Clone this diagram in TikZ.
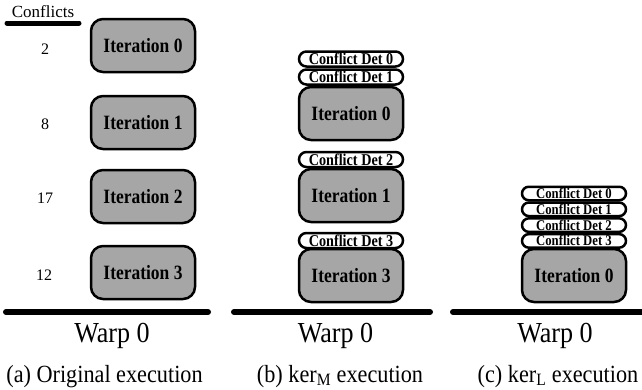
\documentclass[tikz,border=0pt]{standalone}
\usepackage{fontspec}
\setmainfont{Liberation Serif}
\newfontfamily\condbold[FakeStretch=0.86]{Liberation Serif}
\newfontfamily\condreg[FakeStretch=0.9]{Liberation Serif}
\definecolor{boxgray}{HTML}{A6A6A6}
\begin{document}
\begin{tikzpicture}[x=1pt,y=-1pt,
  iterbox/.style={draw, line width=2.5pt, fill=boxgray, rounded corners=12pt,
    minimum width=104pt, minimum height=53pt, inner sep=0pt,
    font=\condbold\bfseries\fontsize{20.3}{22}\selectfont},
  pill/.style={draw, line width=2.5pt, fill=white, rounded corners=7.5pt,
    minimum width=104pt, minimum height=15pt, inner sep=0pt,
    text height=11pt, text depth=0pt,
    font=\condbold\bfseries\fontsize{16.5}{17}\selectfont},
  smallpill/.style={pill, rounded corners=6.8pt, minimum height=13.5pt,
    text height=10pt,
    font=\condbold\bfseries\fontsize{14.8}{15}\selectfont},
  warp/.style={anchor=base, font=\condreg\fontsize{29}{30}\selectfont},
  capt/.style={anchor=base, font=\condreg\fontsize{24.7}{26}\selectfont},
  num/.style={anchor=base, font=\fontsize{16}{17}\selectfont},
  ground/.style={line width=6pt, line cap=round}
]
\useasboundingbox (0,0) rectangle (642,389);

% (a) original execution
\node[anchor=base, font=\fontsize{17}{18}\selectfont] (conf) at (43,17) {Conflicts};
\coordinate (cl) at (7,23);
\coordinate (cr) at (79,23);
\draw[line width=5pt, line cap=round] (cl) -- (cr);

\node[iterbox] (a0) at (143,45.5) {Iteration 0};
\node[iterbox] (a1) at (143,122.5) {Iteration 1};
\node[iterbox] (a2) at (143,196.5) {Iteration 2};
\node[iterbox] (a3) at (143,272.5) {Iteration 3};

\node[num] (n0) at (45,54) {2};
\node[num] (n1) at (45,129) {8};
\node[num] (n2) at (45,203) {17};
\node[num] (n3) at (44,280) {12};

\coordinate (ga1) at (6,312);
\coordinate (ga2) at (208,312);
\draw[ground] (ga1) -- (ga2);
\node[warp] (wa) at (112,342) {Warp 0};
\node[capt] (ca) at (104.5,382) {(a) Original execution};

% (b) kerM execution
\node[pill] (bd0) at (351,59) {Conflict Det 0};
\node[pill] (bd1) at (351,77) {Conflict Det 1};
\node[iterbox] (b0) at (351,113.5) {Iteration 0};
\node[pill] (bd2) at (351,159.5) {Conflict Det 2};
\node[iterbox] (b1) at (351,195.5) {Iteration 1};
\node[pill] (bd3) at (351,240.5) {Conflict Det 3};
\node[iterbox] (b3) at (351,275.5) {Iteration 3};

\coordinate (gb1) at (234,312);
\coordinate (gb2) at (430,312);
\draw[ground] (gb1) -- (gb2);
\node[warp] (wb) at (335.5,342) {Warp 0};
\node[capt] (cb) at (340,382) {(b) ker\textsubscript{M} execution};

% (c) kerL execution
\node[smallpill] (cd0) at (574,193.5) {Conflict Det 0};
\node[smallpill] (cd1) at (574,209.3) {Conflict Det 1};
\node[smallpill] (cd2) at (574,225.1) {Conflict Det 2};
\node[smallpill] (cd3) at (574,240.9) {Conflict Det 3};
\node[iterbox] (c0) at (574,275.5) {Iteration 0};

\coordinate (gc1) at (453,312);
\coordinate (gc2) at (650,312);
\draw[ground] (gc1) -- (gc2);
\node[warp] (wc) at (555,342) {Warp 0};
\node[capt] (cc) at (558,382) {(c) ker\textsubscript{L} execution};
\end{tikzpicture}
\end{document}
